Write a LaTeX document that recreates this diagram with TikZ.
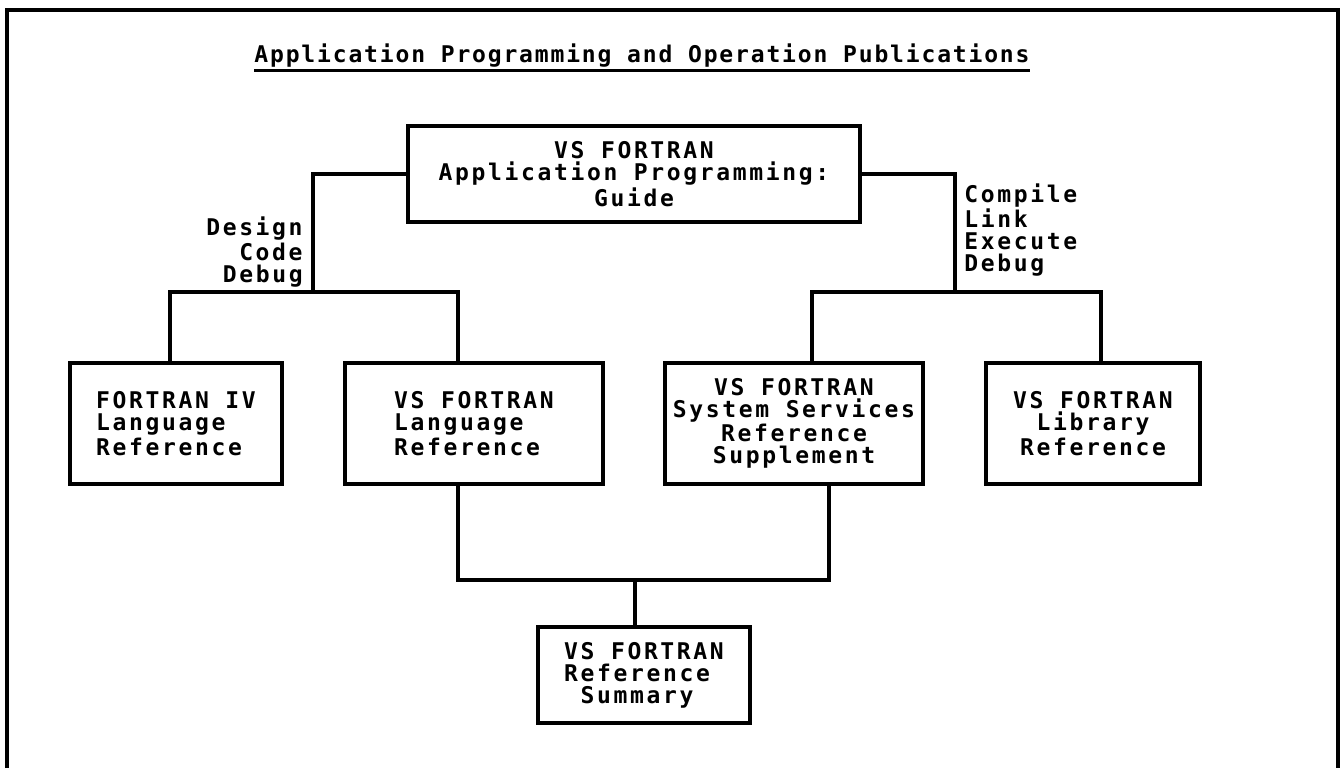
\documentclass[tikz,border=0pt]{standalone}
\usepackage{fontspec}
\newfontfamily\ibmmono{DejaVu Sans Mono}[LetterSpace=11.5]
\newfontfamily\ibmhead{DejaVu Sans Mono}[LetterSpace=8]
\newcommand{\ibm}{\ibmmono\bfseries\fontsize{11.5pt}{11pt}\selectfont}
\newcommand{\ibmtitle}{\ibmhead\bfseries\fontsize{11.5pt}{11pt}\selectfont}
\usetikzlibrary{calc}

\begin{document}
\begin{tikzpicture}[x=0.5pt,y=-0.5pt,
  pub/.style={draw,line width=1.7pt,inner sep=0pt,font=\ibm,align=left},
  tag/.style={inner sep=0pt,font=\ibm},
  wire/.style={line width=1.7pt}]
\useasboundingbox (0,0) rectangle (1342,768);
\draw[line width=2pt] (7,768) -- (7,10) -- (1338,10) -- (1338,768);

\node[tag,font=\ibmtitle] (title) at (642,56) {Application Programming and Operation Publications};
\draw[line width=1.5pt] ([yshift=-1pt]title.south west) -- ([yshift=-1pt]title.south east);

\node[pub,align=center,minimum width=226pt,minimum height=48pt] (guide) at (634,174)
  {VS FORTRAN\\Application Programming:\\Guide};

\node[pub,minimum width=106pt,minimum height=60.5pt] (f4lang) at (176,423.5)
  {FORTRAN IV\\Language\\Reference};
\node[pub,minimum width=129pt,minimum height=60.5pt] (vslang) at (474,423.5)
  {VS FORTRAN\\Language\\Reference};
\node[pub,align=center,minimum width=129pt,minimum height=60.5pt] (syssvc) at (794,423.5)
  {VS FORTRAN\\System Services\\Reference\\Supplement};
\node[pub,align=center,minimum width=107pt,minimum height=60.5pt] (library) at (1093,423.5)
  {VS FORTRAN\\Library\\Reference};
\node[pub,minimum width=106pt,minimum height=48pt] (summary) at (644,675)
  {VS FORTRAN\\Reference\\\ Summary};

\coordinate (lhub) at (313,292);
\coordinate (rhub) at (955,292);
\coordinate (bhub) at (635,580);

\node[tag,anchor=east,align=right] (dcd) at (303,252) {Design\\Code\\Debug};
\node[tag,anchor=west,align=left] (cled) at (964,230) {Compile\\Link\\Execute\\Debug};

\draw[wire] (guide.west) -| (lhub);
\draw[wire] ([xshift=-3pt]f4lang.north) |- (lhub) -| ([xshift=-8pt]vslang.north);
\draw[wire] (guide.east) -| (rhub);
\draw[wire] ([xshift=9pt]syssvc.north) |- (rhub) -| ([xshift=4pt]library.north);
\draw[wire] ([xshift=-8pt]vslang.south) |- (bhub) -| ([xshift=17.5pt]syssvc.south);
\draw[wire] (bhub) -- (bhub |- summary.north);
\end{tikzpicture}
\end{document}
